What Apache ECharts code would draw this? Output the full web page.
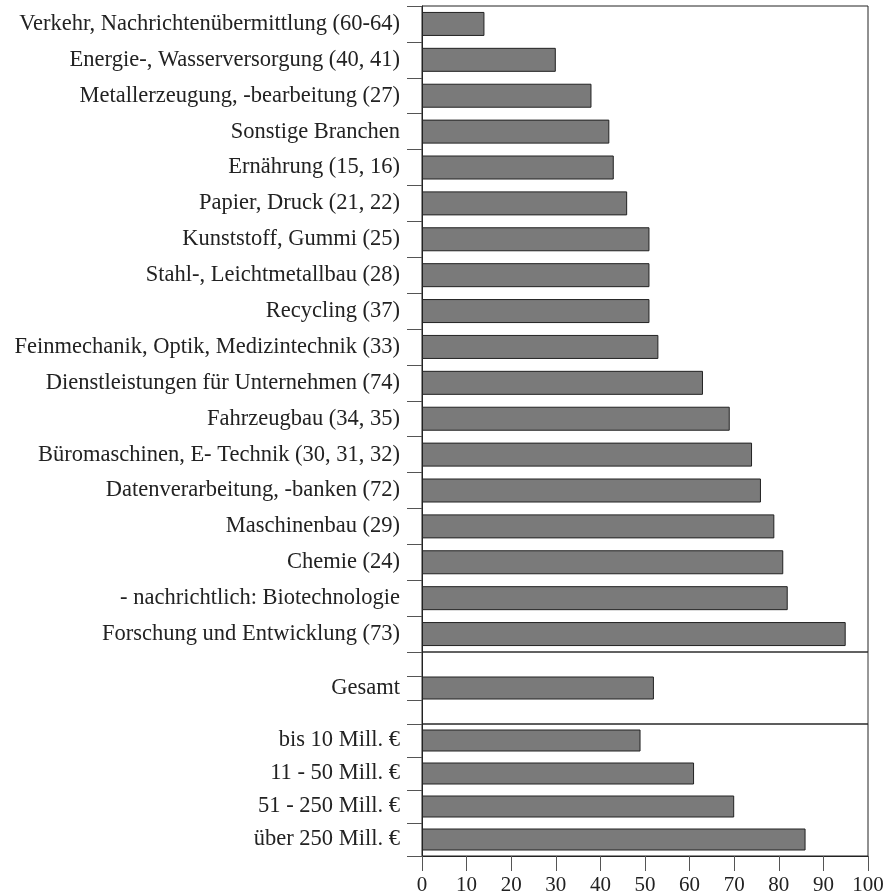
<!DOCTYPE html>
<html>
<head>
<meta charset="utf-8">
<script src="https://cdn.jsdelivr.net/npm/echarts@6/dist/echarts.min.js"></script>
<style>html,body{margin:0;padding:0;background:#fff}#c{width:889px;height:896px}</style>
</head>
<body>
<div id="c"></div>
<script>
var branchCategories = [
  'Verkehr, Nachrichtenübermittlung (60-64)',
  'Energie-, Wasserversorgung (40, 41)',
  'Metallerzeugung, -bearbeitung (27)',
  'Sonstige Branchen',
  'Ernährung (15, 16)',
  'Papier, Druck (21, 22)',
  'Kunststoff, Gummi (25)',
  'Stahl-, Leichtmetallbau (28)',
  'Recycling (37)',
  'Feinmechanik, Optik, Medizintechnik (33)',
  'Dienstleistungen für Unternehmen (74)',
  'Fahrzeugbau (34, 35)',
  'Büromaschinen, E- Technik (30, 31, 32)',
  'Datenverarbeitung, -banken (72)',
  'Maschinenbau (29)',
  'Chemie (24)',
  '- nachrichtlich: Biotechnologie',
  'Forschung und Entwicklung (73)'
];
var branchValues = [14, 30, 38, 42, 43, 46, 51, 51, 51, 53, 63, 69, 74, 76, 79, 81, 82, 95];

var totalCategories = ['', 'Gesamt', ''];
var totalValues = [null, 52, null];

var sizeCategories = ['bis 10 Mill. €', '11 - 50 Mill. €', '51 - 250 Mill. €', 'über 250 Mill. €'];
var sizeValues = [49, 61, 70, 86];

var xTicks = [0, 10, 20, 30, 40, 50, 60, 70, 80, 90, 100];

var FONT = '"Liberation Serif", "DejaVu Serif", serif';
var chart = echarts.init(document.getElementById('c'), null, {renderer: 'canvas'});

function yAxis(idx, cats, extraLabel) {
  var lab = {fontFamily: FONT, fontSize: 22.5, color: '#222', margin: 22, interval: 0};
  if (extraLabel) Object.assign(lab, extraLabel);
  return {
    type: 'category', gridIndex: idx, data: cats, inverse: true,
    axisLine: {show: true, lineStyle: {color: '#222', width: 1}},
    axisTick: {show: true, length: 15, inside: false, interval: 0, lineStyle: {color: '#555', width: 1}},
    axisLabel: lab,
    splitLine: {show: false}
  };
}
function xAxis(idx, show) {
  return {
    type: 'value', gridIndex: idx, min: 0, max: 100, interval: 10, show: show,
    axisLine: {show: true, onZero: false, lineStyle: {color: '#222', width: 1}},
    axisTick: {show: true, length: 15, lineStyle: {color: '#555', width: 1}},
    axisLabel: {fontFamily: FONT, fontSize: 21, color: '#222', margin: 19,
      formatter: function (v) { return xTicks.indexOf(v) >= 0 ? String(v) : ''; }},
    splitLine: {show: false}
  };
}
var barStyle = {color: '#7a7a7a', borderColor: '#222', borderWidth: 1};

chart.setOption({
  animation: false,
  backgroundColor: '#fff',
  grid: [
    {left: 422, right: 21, top: 6, height: 646, show: true, borderColor: '#222', borderWidth: 1, backgroundColor: 'transparent'},
    {left: 422, right: 21, top: 652, height: 72, show: true, borderColor: '#333', borderWidth: 1, backgroundColor: 'transparent'},
    {left: 422, right: 21, top: 724, height: 132, show: true, borderColor: '#222', borderWidth: 1, backgroundColor: 'transparent'}
  ],
  xAxis: [xAxis(0, false), xAxis(1, false), xAxis(2, true)],
  yAxis: [
    yAxis(0, branchCategories),
    yAxis(1, totalCategories, {padding: [0, 0, 10, 0]}),
    yAxis(2, sizeCategories)
  ],
  series: [
    {type: 'bar', xAxisIndex: 0, yAxisIndex: 0, data: branchValues, barWidth: 24, itemStyle: barStyle},
    {type: 'bar', xAxisIndex: 1, yAxisIndex: 1, data: totalValues, barWidth: 23, itemStyle: barStyle},
    {type: 'bar', xAxisIndex: 2, yAxisIndex: 2, data: sizeValues, barWidth: 22, itemStyle: barStyle}
  ]
});
</script>
</body>
</html>
